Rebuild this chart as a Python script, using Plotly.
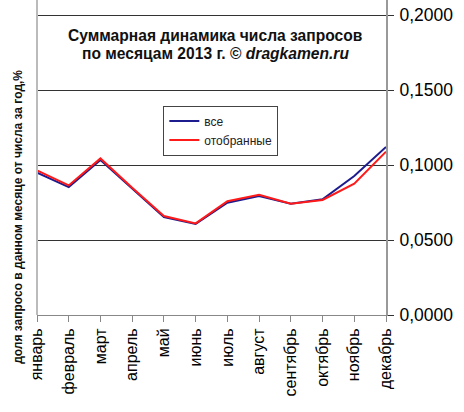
import plotly.graph_objects as go

months = ["январь", "февраль", "март", "апрель", "май", "июнь",
          "июль", "август", "сентябрь", "октябрь", "ноябрь", "декабрь"]
vse = [0.0949, 0.0853, 0.1033, 0.0846, 0.0653, 0.0607,
       0.0749, 0.0793, 0.0742, 0.0771, 0.0927, 0.1120]
otobrannye = [0.0964, 0.0864, 0.1044, 0.0848, 0.0660, 0.0611,
              0.0758, 0.0802, 0.0742, 0.0767, 0.0876, 0.1089]
y_ticks = [0, 0.05, 0.1, 0.15, 0.2]

fig = go.Figure()
fig.add_trace(go.Scatter(x=months, y=vse, name="все", mode="lines",
                         line=dict(color="#1c1c8f", width=2)))
fig.add_trace(go.Scatter(x=months, y=otobrannye, name="отобранные", mode="lines",
                         line=dict(color="#ff1a1a", width=2)))

fig.update_layout(
    width=464, height=412,
    margin=dict(l=37, r=78, t=0, b=97),
    paper_bgcolor="white", plot_bgcolor="white",
    separators=", ",
    font=dict(family="Liberation Sans, Arial, sans-serif", color="black"),
    showlegend=True,
    legend=dict(x=0.362, y=0.665, xanchor="left", yanchor="top",
                bgcolor="white", bordercolor="#444", borderwidth=1,
                itemwidth=30,
                font=dict(size=12, color="#222"), tracegroupgap=6),
    xaxis=dict(
        type="category", range=[0, 11],
        tickangle=-90, tickfont=dict(size=16),
        ticks="outside", ticklen=6, tickcolor="#888",
        showgrid=False, showline=True, linecolor="#888", mirror=False,
    ),
    yaxis=dict(
        side="right", range=[0, 0.21],
        tickvals=y_ticks, tickformat=".4f", tickfont=dict(size=17.5),
        ticklabelstandoff=2,
        showgrid=True, gridcolor="#333", gridwidth=1,
        ticks="outside", ticklen=6, tickcolor="#333",
        showline=True, linecolor="#999", linewidth=2,
        zeroline=False,
    ),
)

# left border of plot area
fig.add_shape(type="line", xref="paper", yref="paper", x0=0, x1=0, y0=0, y1=1,
              line=dict(color="#bbb", width=2))

# title, two lines placed separately to keep the tight line spacing
fig.add_annotation(
    text="<b>Суммарная динамика числа запросов</b>",
    xref="paper", yref="paper", x=0.51, y=0.886, xanchor="center", yanchor="middle",
    showarrow=False, font=dict(size=15.6, color="#111"),
)
fig.add_annotation(
    text="<b>по месяцам 2013 г. © <i>dragkamen.ru</i></b>",
    xref="paper", yref="paper", x=0.512, y=0.829, xanchor="center", yanchor="middle",
    showarrow=False, font=dict(size=15.6, color="#111"),
)
fig.add_annotation(
    text="<b>доля запросо в данном месяце от числа за год,%</b>",
    xref="paper", yref="paper", x=-0.055, y=0.311, xanchor="center", yanchor="middle",
    textangle=-90, showarrow=False, font=dict(size=12, color="#111"),
)

fig.write_html("out.html", config={"displayModeBar": False},
               post_script="document.body.style.margin='0';")
